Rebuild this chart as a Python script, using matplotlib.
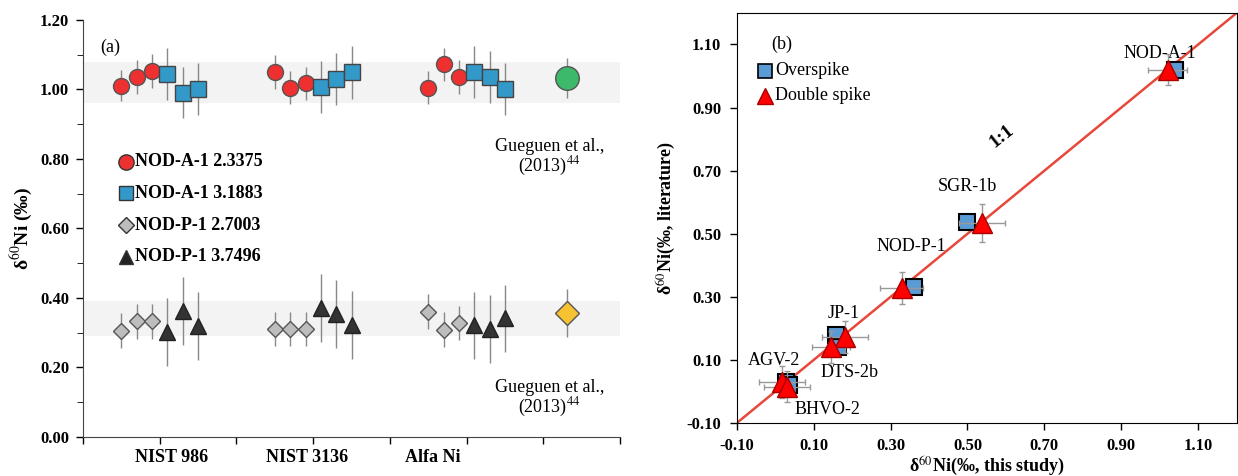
import matplotlib.pyplot as plt
import numpy as np
from matplotlib.ticker import MultipleLocator

plt.rcParams['font.family'] = ['Liberation Serif', 'DejaVu Serif']
plt.rcParams['mathtext.fontset'] = 'stix'

# ---------------- panel (a) data ----------------
x_g1 = [0.5, 0.7, 0.9]
x_g2 = [1.1, 1.3, 1.5]
groups = [0, 2, 4]  # offset of each standard group
std_labels = ['NIST 986', 'NIST 3136', 'Alfa Ni']
std_label_x = [1.16, 2.92, 4.56]

noda_233 = [[1.011, 1.036, 1.053], [1.050, 1.005, 1.018], [1.005, 1.072, 1.036]]
noda_233_err = [[0.045, 0.048, 0.05], [0.048, 0.048, 0.048], [0.048, 0.048, 0.048]]
noda_318 = [[1.044, 0.991, 1.002], [1.007, 1.030, 1.050], [1.050, 1.037, 1.002]]
noda_318_err = [[0.074, 0.074, 0.075], [0.075, 0.076, 0.076], [0.075, 0.075, 0.074]]
nodp_270 = [[0.306, 0.333, 0.333], [0.311, 0.311, 0.311], [0.361, 0.309, 0.328]]
nodp_270_err = [[0.05, 0.05, 0.05], [0.05, 0.05, 0.05], [0.05, 0.05, 0.05]]
nodp_375 = [[0.303, 0.363, 0.319], [0.370, 0.354, 0.323], [0.321, 0.310, 0.341]]
nodp_375_err = [[0.098, 0.098, 0.097], [0.098, 0.098, 0.098], [0.097, 0.098, 0.097]]

lit_x = 6.3
lit_noda, lit_noda_err = 1.033, 0.057
lit_nodp, lit_nodp_err = 0.357, 0.069
band_a = (0.96, 1.08)
band_p = (0.29, 0.39)

# ---------------- panel (b) data ----------------
os_names = ['NOD-A-1', 'SGR-1b', 'NOD-P-1', 'JP-1', 'DTS-2b', 'AGV-2', 'BHVO-2']
os_x = [1.040, 0.500, 0.362, 0.158, 0.163, 0.028, 0.035]
os_y = [1.020, 0.538, 0.330, 0.179, 0.141, 0.030, 0.020]
ds_x = [1.020, 0.538, 0.329, 0.181, 0.145, 0.017, 0.030]
ds_y = [1.020, 0.535, 0.329, 0.173, 0.141, 0.030, 0.016]
ds_xerr = [0.05, 0.06, 0.055, 0.06, 0.05, 0.06, 0.06]
ds_yerr = [0.05, 0.06, 0.05, 0.05, 0.05, 0.05, 0.05]
os_xerr = [0.02, 0.01, 0.02, 0.01, 0.01, 0.01, 0.01]
os_yerr = [0.02, 0.01, 0.01, 0.01, 0.01, 0.02, 0.02]
lab_x = [1.00, 0.50, 0.354, 0.178, 0.193, -0.003, 0.137]
lab_y = [1.07, 0.65, 0.459, 0.248, 0.062, 0.097, -0.056]

fig = plt.figure(figsize=(12.38, 4.76), dpi=100)
ax1 = fig.add_axes([0.067, 0.082, 0.434, 0.876])
ax2 = fig.add_axes([0.595, 0.111, 0.404, 0.862])

# ---------- (a) ----------
ax1.axhspan(*band_a, color='#f3f3f3', zorder=0, lw=0)
ax1.axhspan(*band_p, color='#f3f3f3', zorder=0, lw=0)

for i, g in enumerate(groups):
    xa = [g + v for v in x_g1]
    xb = [g + v for v in x_g2]
    ax1.errorbar(xa, noda_233[i], yerr=noda_233_err[i], fmt='o', ms=11.5, mfc='#ee3030',
                 mec='#555555', mew=1, ecolor='#888888', elinewidth=1, zorder=3)
    ax1.errorbar(xb, noda_318[i], yerr=noda_318_err[i], fmt='s', ms=11, mfc='#3399c8',
                 mec='#444444', mew=1, ecolor='#888888', elinewidth=1, zorder=3)
    ax1.errorbar(xa, nodp_270[i], yerr=nodp_270_err[i], fmt='D', ms=8, mfc='#bdbdbd',
                 mec='#555555', mew=1, ecolor='#888888', elinewidth=1, zorder=3)
    ax1.errorbar(xb, nodp_375[i], yerr=nodp_375_err[i], fmt='^', ms=11, mfc='#333333',
                 mec='#222222', mew=1, ecolor='#888888', elinewidth=1, zorder=3)

ax1.errorbar([lit_x], [lit_noda], yerr=[lit_noda_err], fmt='o', ms=17, mfc='#3cb96a',
             mec='#555555', mew=1, ecolor='#888888', elinewidth=1, zorder=3)
ax1.errorbar([lit_x], [lit_nodp], yerr=[lit_nodp_err], fmt='D', ms=12, mfc='#f6c232',
             mec='#555555', mew=1, ecolor='#888888', elinewidth=1, zorder=3)

ax1.text(6.08, 0.86, 'Gueguen et al.,\n(2013)$^{44}$', ha='center', va='top', fontsize=13,
         linespacing=1.0)
ax1.text(6.08, 0.168, 'Gueguen et al.,\n(2013)$^{44}$', ha='center', va='top', fontsize=13,
         linespacing=1.0)
ax1.text(0.23, 1.12, '(a)', ha='left', va='center', fontsize=13)

ax1.set_xlim(0, 7)
ax1.set_ylim(0, 1.2)
ax1.set_xticks(np.arange(0, 8, 1))
ax1.set_xticklabels([])
ax1.yaxis.set_minor_locator(MultipleLocator(0.1))
ax1.set_yticks(np.arange(0, 1.21, 0.2))
ax1.set_yticklabels(['%.2f' % v for v in np.arange(0, 1.21, 0.2)], fontweight='bold', fontsize=12)
ax1.tick_params(direction='out', length=5, width=1, pad=5)
ax1.tick_params(which='minor', direction='out', length=4)
for s in ['top', 'right']:
    ax1.spines[s].set_visible(False)
for s in ['left', 'bottom']:
    ax1.spines[s].set_color('#444444')
for lx, lt in zip(std_label_x, std_labels):
    ax1.text(lx, -0.035, lt, ha='center', va='top', fontsize=13, fontweight='bold')
ax1.set_ylabel('δ$^{60}$Ni (‰)', fontsize=14, fontweight='bold', labelpad=4)

# legend for (a)
leg_items = [('o', '#ee3030', 11, 'NOD-A-1 2.3375'), ('s', '#3399c8', 10, 'NOD-A-1 3.1883'),
             ('D', '#bdbdbd', 8, 'NOD-P-1 2.7003'), ('^', '#222222', 10, 'NOD-P-1 3.7496')]
for k, (m, c, s, t) in enumerate(leg_items):
    yy = 0.792 - k * 0.091
    ax1.plot([0.56], [yy], marker=m, ms=s, mfc=c, mec='#333333', mew=1, ls='none', zorder=4)
    ax1.text(0.68, yy, t, ha='left', va='center', fontsize=13, fontweight='bold')

# ---------- (b) ----------
ax2.plot([-0.1, 1.2], [-0.1, 1.2], color='#e8483a', lw=1.8, zorder=2)
ax2.errorbar(os_x, os_y, xerr=os_xerr, yerr=os_yerr, fmt='s', ms=12, mfc='#5b9bd5',
             mec='black', mew=1.5, ecolor='#999999', elinewidth=1, capsize=2.5, zorder=3)
ax2.errorbar(ds_x, ds_y, xerr=ds_xerr, yerr=ds_yerr, fmt='^', ms=14, mfc='#ff0000',
             mec='#aa0000', mew=1, ecolor='#999999', elinewidth=1, capsize=2.5, zorder=4)
for n, lx, ly in zip(os_names, lab_x, lab_y):
    ax2.text(lx, ly, n, ha='center', va='center', fontsize=13)
ax2.text(0.589, 0.808, '1:1', rotation=38.8, ha='center', va='center', fontsize=14,
         fontweight='bold')
ax2.text(-0.01, 1.10, '(b)', ha='left', va='center', fontsize=13)
ax2.plot([-0.025], [1.017], marker='s', ms=10, mfc='#5b9bd5', mec='black', mew=1.2, ls='none')
ax2.text(0.0, 1.017, 'Overspike', ha='left', va='center', fontsize=13)
ax2.plot([-0.025], [0.938], marker='^', ms=11, mfc='#ff0000', mec='#aa0000', mew=1, ls='none')
ax2.text(0.0, 0.938, 'Double spike', ha='left', va='center', fontsize=13)

ax2.set_xlim(-0.1, 1.2)
ax2.set_ylim(-0.1, 1.2)
ticks_b = np.arange(-0.1, 1.11, 0.2)
ax2.set_xticks(ticks_b)
ax2.set_yticks(ticks_b)
ax2.set_xticklabels(['%.2f' % v for v in ticks_b], fontweight='bold', fontsize=12)
ax2.set_yticklabels(['%.2f' % v for v in ticks_b], fontweight='bold', fontsize=12)
ax2.tick_params(direction='out', length=5, width=1, pad=6)
ax2.set_xlabel('δ$^{60}$Ni(‰, this study)', fontsize=13, fontweight='bold', labelpad=0)
ax2.set_ylabel('δ$^{60}$Ni(‰, literature)', fontsize=13, fontweight='bold', labelpad=6)

fig.savefig('out.png', dpi=100)
